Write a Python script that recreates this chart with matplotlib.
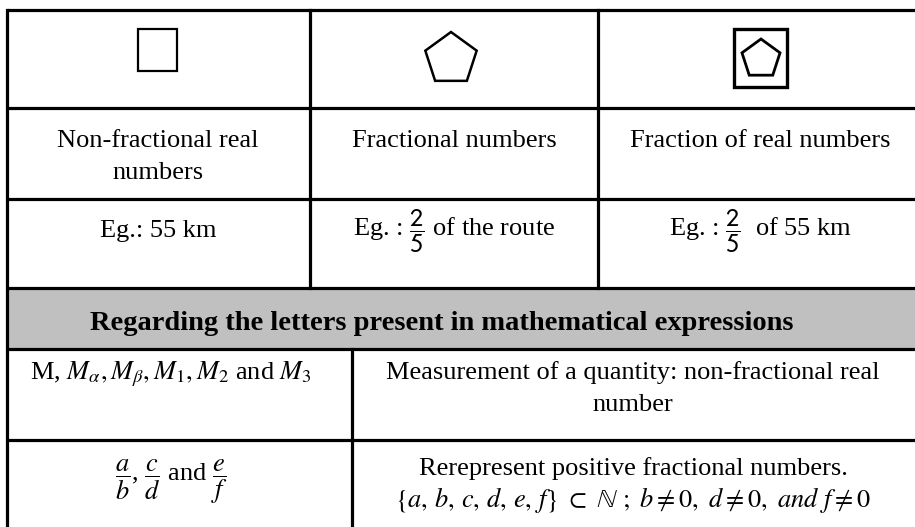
import numpy as np
import matplotlib
matplotlib.use("Agg")
import matplotlib.pyplot as plt
from matplotlib.patches import Rectangle, RegularPolygon

plt.rcParams['font.family'] = ['Liberation Serif', 'DejaVu Serif']
plt.rcParams['mathtext.fontset'] = 'stix'

# table content
shape_kinds = ['square', 'pentagon', 'framed pentagon']
type_names = ['Non-fractional real\nnumbers', 'Fractional numbers', 'Fraction of real numbers']
examples = ['Eg.: 55 km',
            r'Eg. : $\dfrac{\mathsf{2}}{\mathsf{5}}$ of the route',
            r'Eg. : $\dfrac{\mathsf{2}}{\mathsf{5}}$  of 55 km']
heading = 'Regarding the letters present in mathematical expressions'
letters = [r'M, $M_{\alpha}, M_{\beta}, M_1, M_2$ and $M_3$',
           r'$\dfrac{a}{b}$, $\dfrac{c}{d}$ and $\dfrac{e}{f}$']
meanings = ['Measurement of a quantity: non-fractional real\nnumber',
            'Rerepresent positive fractional numbers.\n'
            r'$\{a,\, b,\, c,\, d,\, e,\, f\}\ \subset\ \mathbb{N}\ ;\ b \neq \mathit{0},\ d \neq \mathit{0},\ \mathit{and}\ f \neq \mathit{0}$']

W, H = 915, 527
fig = plt.figure(figsize=(W / 100, H / 100), dpi=100)
ax = fig.add_axes([0, 0, 1, 1])
ax.set_xlim(0, W)
ax.set_ylim(H, 0)
ax.axis('off')

# layout (pixels)
left, right, top = 7, 922, 10
row_y = [10, 108, 199, 288, 349, 440, 527]
col_top = [7, 310, 598, 922]
col_bot = [7, 352, 922]
lw = 2.3
fs = 19
line_gap = 32

# gray heading band
ax.add_patch(Rectangle((left, row_y[3]), right - left, row_y[4] - row_y[3],
                       facecolor='#c0c0c0', edgecolor='none'))

for y in row_y[:-1]:
    ax.plot([left, right], [y, y], color='black', lw=lw, solid_capstyle='butt')
ax.plot([left, left], [top, H], color='black', lw=lw)
for x in col_top[1:-1]:
    ax.plot([x, x], [row_y[0], row_y[3]], color='black', lw=lw)
for x in col_bot[1:-1]:
    ax.plot([x, x], [row_y[4], H], color='black', lw=lw)

centers_top = [158, 454, 760]

# shapes
for kind, cx in zip(shape_kinds, centers_top):
    if kind == 'square':
        ax.add_patch(Rectangle((cx - 20, 29), 39, 42, fill=False, ec='black', lw=1.6))
    elif kind == 'pentagon':
        ax.add_patch(RegularPolygon((cx - 3, 59), 5, radius=27, orientation=np.pi,
                                    fill=False, ec='black', lw=1.8))
    else:
        ax.add_patch(Rectangle((cx - 26, 29), 53, 58, fill=False, ec='black', lw=2.4))
        ax.add_patch(RegularPolygon((cx + 1, 59), 5, radius=20, orientation=np.pi,
                                    fill=False, ec='black', lw=2.0))


def cell_text(x, y0, txt, **kw):
    # y0 is the baseline of the first line
    for i, line in enumerate(txt.split('\n')):
        ax.text(x, y0 + i * line_gap, line, ha='center', va='baseline', fontsize=fs, **kw)


for name, cx in zip(type_names, centers_top):
    cell_text(cx, 147, name)
for ex, cx in zip(examples, centers_top):
    cell_text(cx, 237, ex)

ax.text(442, 330, heading, ha='center', va='baseline',
        fontsize=20.5, fontweight='bold')

for txt, y0 in zip(letters, [379, 482]):
    cell_text(171, y0, txt)
for txt, y0 in zip(meanings, [379, 475]):
    cell_text(633, y0, txt)

fig.savefig('out.png', dpi=100)
